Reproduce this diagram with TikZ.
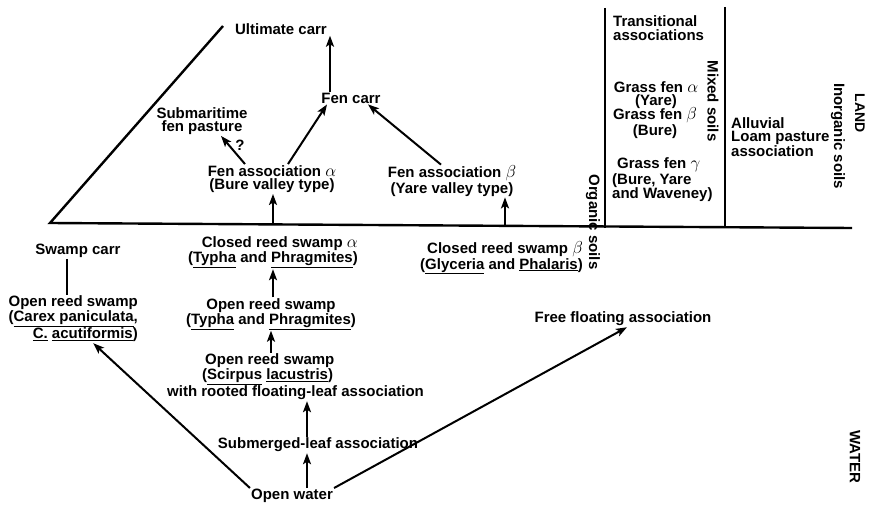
\documentclass[tikz,border=0pt]{standalone}
\usepackage{fontspec}
\setmainfont{Liberation Sans}
\usepackage{tikz}
\usetikzlibrary{arrows.meta, positioning, calc}

\newcommand{\grk}[1]{{\fontsize{19}{13.5}\selectfont$#1$}}

\begin{document}
\begin{tikzpicture}[x=1pt, y=-1pt,
        lbl/.style={inner sep=1pt, align=center, font=\fontsize{15}{13.5}\selectfont\bfseries},
        soil/.style={lbl, rotate=-90},
        realm/.style={inner sep=1pt, rotate=-90, font=\fontsize{15}{15}\selectfont\bfseries},
        arrow/.style={-{Stealth[length=11pt, width=8pt, inset=2.5pt]}, line width=2pt},
        bound/.style={line width=2.4pt}
    ]
        \useasboundingbox (0,0) rectangle (869,513);

        % Boundaries
        \draw[bound] (223,26) -- (50,223) -- (852,228);
        \draw[bound] (605,8) -- (605,227.5);
        \draw[bound] (725,7) -- (725,228);
        \coordinate (rootA) at (273,225);
        \coordinate (rootB) at (505,226.5);

        % Land side
        \node[lbl] (ultimate) at (281,29) {Ultimate carr};
        \node[lbl] (fencarr) at (351,98) {Fen carr};
        \node[lbl] (submar) at (202,121) {Submaritime\\fen pasture};
        \node[lbl] (qmark) at (240,145) {?};
        \node[lbl] (fenA) at (272,179) {Fen association \grk{\alpha}\\(Bure valley type)};
        \node[lbl] (fenB) at (452,181) {Fen association \grk{\beta}\\(Yare valley type)};
        \node[lbl, align=left, anchor=west] (transit) at (612,28) {Transitional\\associations};
        \node[lbl] (grassA) at (656,95) {Grass fen \grk{\alpha}\\(Yare)};
        \node[lbl] (grassB) at (655,123) {Grass fen \grk{\beta}\\(Bure)};
        \node[lbl, align=left, anchor=west] (grassG) at (611,180) {\hspace*{5pt}Grass fen \grk{\gamma}\\(Bure, Yare\\and Waveney)};
        \node[lbl, align=left, anchor=west] (alluvial) at (730,137) {Alluvial\\Loam pasture\\association};

        % Soil labels
        \node[soil] (organic) at (593,222) {Organic soils};
        \node[soil] (mixed) at (713,101) {Mixed soils};
        \node[soil] (inorganic) at (838,136) {Inorganic soils};
        \node[realm, font=\fontsize{14}{14}\selectfont\bfseries] (land) at (860,113) {LAND};
        \node[realm] (water) at (855,457) {WATER};

        % Water side
        \node[lbl] (swampcarr) at (78,251) {Swamp carr};
        \node[lbl, align=right, anchor=east] (carex) at (139,319) {Open reed swamp\\(\underline{Carex paniculata},\\\underline{C.} \underline{acutiformis})};
        \node[lbl, align=right, anchor=east] (closedA) at (359,252.5) {Closed reed swamp \grk{\alpha}\\(\underline{Typha} and \underline{Phragmites})};
        \node[lbl, align=right, anchor=east] (closedB) at (584,258) {Closed reed swamp \grk{\beta}\\(\underline{Glyceria} and \underline{Phalaris})};
        \node[lbl] (openTypha) at (271,314) {Open reed swamp\\(\underline{Typha} and \underline{Phragmites})};
        \node[lbl, align=left, anchor=west] (scirpus) at (166,377) {\hspace*{38pt}Open reed swamp\\\hspace*{35pt}(\underline{Scirpus} \underline{lacustris})\\with rooted floating-leaf association};
        \node[lbl] (submerged) at (318,445) {Submerged-leaf association};
        \node[lbl] (openwater) at (292,496) {Open water};
        \node[lbl] (freefloat) at (623,319) {Free floating association};

        % Successions
        \draw[arrow] ([xshift=-21pt]fencarr.north) -- ([xshift=-21pt]fencarr.north |- ultimate.south);
        \draw[arrow] ([xshift=-27pt]fenA.north) -- ([xshift=19pt]submar.south);
        \draw[arrow] ([xshift=16pt]fenA.north) -- ([xshift=-24pt]fencarr.south);
        \draw[arrow] ([xshift=-11pt]fenB.north) -- ([xshift=17pt]fencarr.south);
        \draw[arrow] (rootA) -- (rootA |- fenA.south);
        \draw[arrow] (rootB) -- (rootB |- fenB.south);
        \draw[line width=2pt] ([xshift=-11pt]swampcarr.south) -- ([xshift=-11pt]swampcarr.south |- carex.north);
        \draw[arrow] ([xshift=2pt]openTypha.north) -- ([xshift=2pt]openTypha.north |- closedA.south);
        \draw[arrow] (scirpus.north -| openTypha.north) -- (openTypha.south);
        \draw[arrow] ([xshift=-11pt]submerged.north) -- ([xshift=-11pt]submerged.north |- scirpus.south);
        \draw[arrow] ([xshift=15pt]openwater.north) -- ([xshift=15pt]openwater.north |- submerged.south);
        \draw[arrow] (openwater.north west) -- ([xshift=20pt]carex.south);
        \draw[arrow] (openwater.north east) -- ([xshift=4pt]freefloat.south);
    \end{tikzpicture}
\end{document}
